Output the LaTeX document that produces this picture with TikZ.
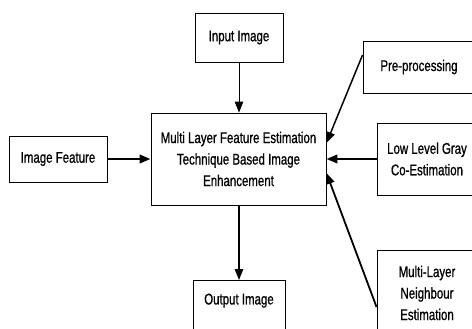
\documentclass[tikz,border=0pt]{standalone}
\usepackage{fontspec}
\setmainfont{Liberation Sans}[FakeStretch=0.74,FakeBold=0.8]
\usetikzlibrary{arrows.meta}
\begin{document}
\begin{tikzpicture}[x=1pt,y=-1pt,
  box/.style={draw,line width=0.9pt,inner sep=0pt,align=center,font=\fontsize{15.5}{21.5}\selectfont},
  conn/.style={-{Triangle[length=11pt,width=8.5pt]}},
]
\clip (0,0) rectangle (472,329);
\fill[white] (0,0) rectangle (472,329);
\node[box,minimum width=88,minimum height=49] (in) at (239,37.5) {Input Image};
\node[box,minimum width=175,minimum height=92] (main) at (238.5,159) {Multi Layer Feature Estimation\\Technique Based Image\\Enhancement};
\node[box,minimum width=98,minimum height=46] (imf) at (58,159) {Image Feature};
\node[box,minimum width=112,minimum height=52] (pre) at (419,67) {Pre-processing};
\node[box,minimum width=100,minimum height=72] (ll) at (427,159) {Low Level Gray\\Co-Estimation};
\node[box,minimum width=100,minimum height=86] (ml) at (427,293) {Multi-Layer\\Neighbour\\Estimation};
\node[box,anchor=north,minimum width=92,text height=24pt,text depth=30pt] (out) at (239,280) {Output Image};
\draw[conn,line width=1pt] (in) -- (main.north -| in);
\draw[conn,line width=1.2pt] (main.south -| in) -- (out);
\draw[conn,line width=2.5pt] (imf.east) -- (main.west);
\draw[conn,line width=2.5pt] (ll.west) -- (main.east);
\draw[conn,line width=1.5pt] ([yshift=12pt]pre.west) -- ([yshift=16pt]main.east);
\draw[conn,line width=1.8pt] ([yshift=-14pt]ml.west) -- ([yshift=-14pt]main.east);
\end{tikzpicture}
\end{document}
